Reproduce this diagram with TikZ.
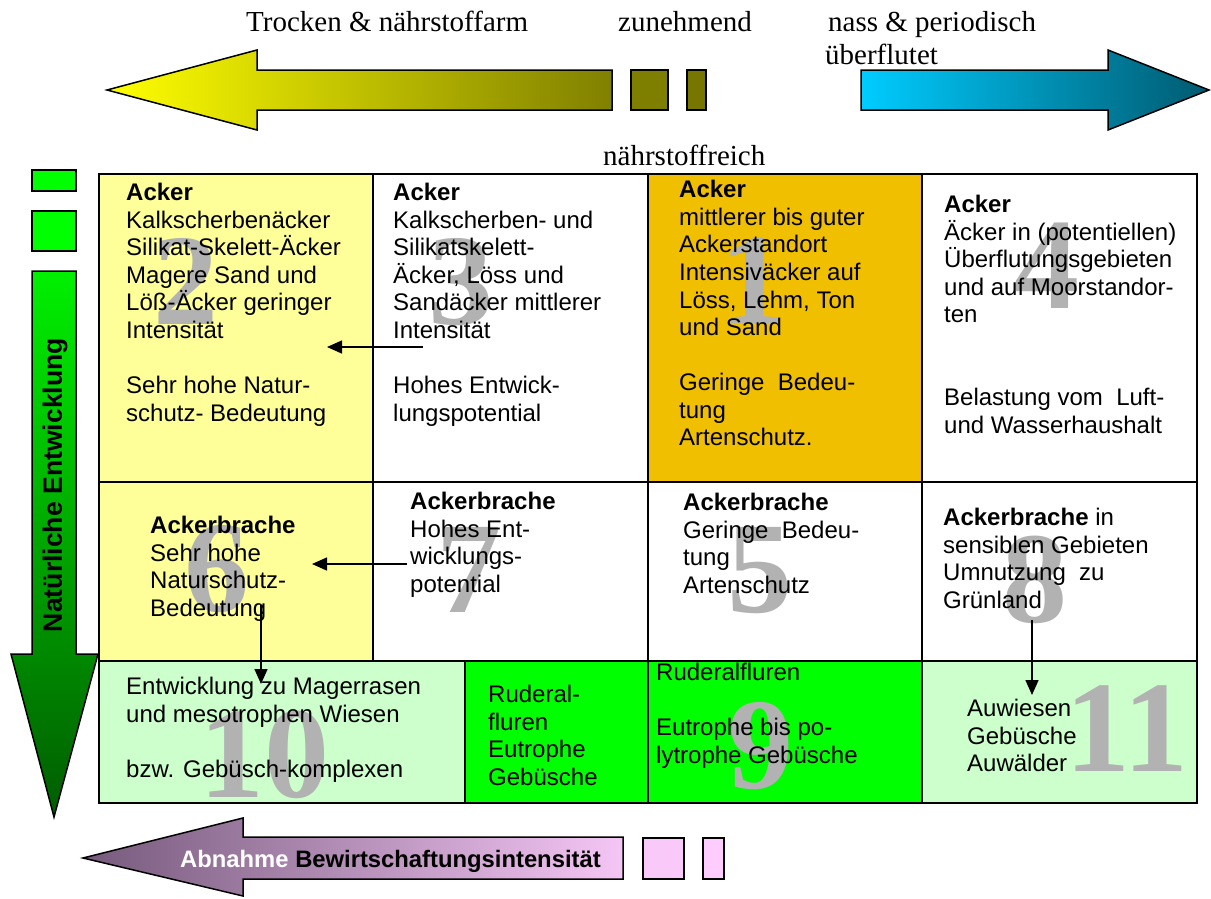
\documentclass[tikz,border=0pt]{standalone}
\usepackage{fontspec}
\setmainfont{Liberation Serif}
\setsansfont{Liberation Sans}
\newfontfamily\arialfam{Liberation Sans}
\usetikzlibrary{arrows.meta}
\definecolor{lyellow}{HTML}{FFFF99}
\definecolor{goldc}{HTML}{F0C000}
\definecolor{lgreen}{HTML}{CCFFCC}
\definecolor{bgreen}{HTML}{00FF00}
\definecolor{numgrey}{HTML}{B2B2B2}
\definecolor{olivea}{HTML}{808000}
\definecolor{oliveb}{HTML}{7E7E00}
\definecolor{olivec}{HTML}{767600}
\definecolor{cyanl}{HTML}{00CCFF}
\definecolor{tealr}{HTML}{005A70}
\definecolor{purpl}{HTML}{765A7C}
\definecolor{purpr}{HTML}{F5C6F5}
\definecolor{pinka}{HTML}{F9C9F9}
\definecolor{pinkb}{HTML}{FFCCFF}
\definecolor{greentop}{HTML}{00F000}
\definecolor{greenbot}{HTML}{005C00}
\newcommand\cellfont{\arialfam\fontsize{24}{27.6}\selectfont}
\newcommand\numfont{\rmfamily\bfseries\fontsize{130}{130}\selectfont}
\newcommand\topfont{\rmfamily\fontsize{29}{32}\selectfont}
\begin{document}
\begin{tikzpicture}[x=1pt,y=-1pt,
  cell/.style={anchor=north west, inner sep=0pt, align=left, font=\cellfont,
    execute at begin node={\rule{0pt}{22pt}}},
  numstyle/.style={anchor=base, inner sep=0pt, font=\numfont, text=numgrey},
  toptext/.style={anchor=base west, inner sep=0pt, font=\topfont},
  grid/.style={line width=2pt, black},
  blockarrow/.style={draw=black, line width=1.5pt, line join=miter},
  sq/.style={draw=black, line width=1.5pt},
  conn/.style={line width=1.5pt, -{Triangle[length=15pt,width=13pt]}}
]
\useasboundingbox (0,0) rectangle (1211,898);

% ---------- top arrows ----------
\path[blockarrow, left color=yellow, right color=olivea]
  (612,70) -- (257,70) -- (257,50) -- (107,90) -- (257,130) -- (257,110) -- (612,110) -- cycle;
\path[sq, fill=oliveb] (631,70) rectangle (668,110);
\path[sq, fill=olivec] (687,70) rectangle (706,110);
\path[blockarrow, left color=cyanl, right color=tealr]
  (861,70) -- (1108,70) -- (1108,50) -- (1209,90) -- (1108,130) -- (1108,110) -- (861,110) -- cycle;

\node[toptext] (trocken) at (246,31) {Trocken \& nährstoffarm};
\node[toptext] (zunehmend) at (618,31) {zunehmend};
\node[toptext] (nass) at (828,31) {nass \& periodisch};
\node[toptext] (ueberflutet) at (825,64) {überflutet};
\node[toptext] (reich) at (603,165) {nährstoffreich};

% ---------- left arrow ----------
\path[sq, fill=bgreen] (32,170) rectangle (76,191);
\path[sq, fill=bgreen] (32,211) rectangle (76,251);
\path[blockarrow, top color=greentop, bottom color=greenbot]
  (32,271) -- (76,271) -- (76,654) -- (98,654) -- (54,817) -- (11,654) -- (32,654) -- cycle;
\node[rotate=90, inner sep=0pt, font=\arialfam\bfseries\fontsize{26.6}{30}\selectfont] (natent) at (55,485) {Natürliche Entwicklung};

% ---------- cell fills ----------
\fill[lyellow] (99,174) rectangle (373,661);
\fill[goldc] (648,174) rectangle (922,482);
\fill[lgreen] (99,661) rectangle (465,803);
\fill[bgreen] (465,661) rectangle (922,803);
\fill[lgreen] (922,661) rectangle (1197,803);

% ---------- big numbers ----------
\node[numstyle] (n2) at (186,324) {2};
\node[numstyle] (n3) at (461,324) {3};
\node[numstyle] (n1) at (753,323) {1};
\node[numstyle] (n4) at (1047,308) {4};
\node[numstyle] (n6) at (217,611) {6};
\node[numstyle] (n7) at (469,612) {7};
\node[numstyle] (n5) at (760,612) {5};
\node[numstyle] (n8) at (1035,622) {8};
\node[numstyle] (n10) at (264,797) {10};
\node[numstyle] (n9) at (761,788) {9};
\node[numstyle] (n11) at (1127,771) {11};

% ---------- cell texts ----------
\node[cell] (c2) at (126,183) {\textbf{Acker}\\Kalkscherbenäcker\\Silikat-Skelett-Äcker\\Magere Sand und\\Löß-Äcker geringer\\Intensität\\[27.6pt]Sehr hohe Natur-\\schutz- Bedeutung};
\node[cell] (c3) at (393,183) {\textbf{Acker}\\Kalkscherben- und\\Silikatskelett-\\Äcker, Löss und\\Sandäcker mittlerer\\Intensität\\[27.6pt]Hohes Entwick-\\lungspotential};
\node[cell] (c1) at (679,180) {\textbf{Acker}\\mittlerer bis guter\\Ackerstandort\\Intensiväcker auf\\Löss, Lehm, Ton\\und Sand\\[27.6pt]Geringe\ \ Bedeu-\\tung\\Artenschutz.};
\node[cell] (c4) at (944,195) {\textbf{Acker}\\Äcker in (potentiellen)\\Überflutungsgebieten\\und auf Moorstandor-\\ten\\[55.2pt]Belastung vom\ \ Luft-\\und Wasserhaushalt};
\node[cell] (c6) at (150,516) {\textbf{Ackerbrache}\\Sehr hohe\\Naturschutz-\\Bedeutung};
\node[cell] (c7) at (410,492) {\textbf{Ackerbrache}\\Hohes Ent-\\wicklungs-\\potential};
\node[cell] (c5) at (683,493) {\textbf{Ackerbrache}\\Geringe\ \ Bedeu-\\tung\\Artenschutz};
\node[cell] (c8) at (943,508) {\textbf{Ackerbrache} in\\sensiblen Gebieten\\Umnutzung\ \ zu\\Grünland};
\node[cell] (c10) at (126,677) {Entwicklung zu Magerrasen\\und mesotrophen Wiesen\\[27.6pt]bzw. Gebüsch-komplexen};
\node[cell] (cr) at (488,685) {Ruderal-\\fluren\\Eutrophe\\Gebüsche};
\node[cell] (c9) at (656,663) {Ruderalfluren\\[27.6pt]Eutrophe bis po-\\lytrophe Gebüsche};
\node[cell] (c11) at (967,699) {Auwiesen\\Gebüsche\\Auwälder};

% ---------- grid ----------
\draw[grid] (99,174) rectangle (1197,803);
\draw[grid] (99,482) -- (1197,482);
\draw[grid] (99,661) -- (1197,661);
\draw[grid] (373,174) -- (373,661);
\draw[grid] (648,174) -- (648,803);
\draw[grid] (922,174) -- (922,803);
\draw[grid] (465,661) -- (465,803);

% ---------- connectors ----------
\coordinate (a1s) at (423,347);
\coordinate (a1e) at (327,347);
\coordinate (a2s) at (407,564);
\coordinate (a2e) at (312,564);
\coordinate (a3s) at (261,605);
\coordinate (a3e) at (261,684);
\coordinate (a4s) at (1032,620);
\coordinate (a4e) at (1032,695);
\draw[conn] (a1s) -- (a1e);
\draw[conn] (a2s) -- (a2e);
\draw[conn] (a3s) -- (a3e);
\draw[conn] (a4s) -- (a4e);

% ---------- bottom arrow ----------
\path[blockarrow, left color=purpl, right color=purpr]
  (623,837) -- (243,837) -- (243,818) -- (83,858) -- (243,896) -- (243,879) -- (623,879) -- cycle;
\path[sq, fill=pinka] (643,838) rectangle (684,879);
\path[sq, fill=pinkb] (703,838) rectangle (724,879);
\node[anchor=base west, inner sep=0pt, font=\arialfam\bfseries\fontsize{23.8}{27}\selectfont] (abn) at (180,867) {\textcolor{white}{Abnahme} Bewirtschaftungsintensität};
\end{tikzpicture}
\end{document}
